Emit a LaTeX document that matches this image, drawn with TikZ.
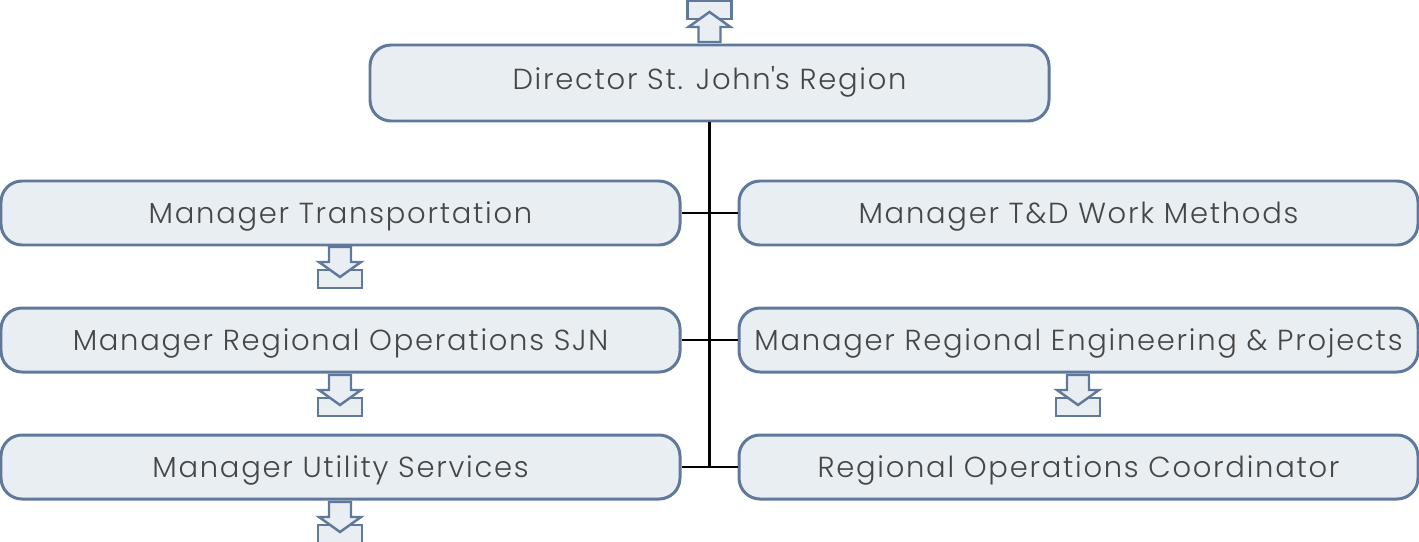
\documentclass[tikz,border=0pt]{standalone}
\usepackage{fontspec}
\setmainfont{Poppins}[UprightFont={* Light}, LetterSpace=6]
\usepackage{tikz}
\definecolor{boxline}{RGB}{96,120,156}
\definecolor{boxfill}{RGB}{233,238,242}
\definecolor{boxtext}{RGB}{70,70,70}
\tikzset{
  unitbox/.style={draw=boxline, fill=boxfill, line width=1.7pt, rounded corners=0.42cm,
    minimum width=13.58cm, minimum height=1.28cm, text=boxtext,
    font=\fontsize{16.5}{20}\selectfont, inner sep=0pt, text height=0.50cm, text depth=0.08cm},
  link/.style={draw=black, line width=1.4pt},
  tray/.pic={
    \draw[boxline, fill=boxfill, line width=1.4pt] (-0.44,-0.46) rectangle (0.44,-0.82);
    \draw[boxline, fill=boxfill, line width=1.4pt, line join=miter]
      (-0.22,0) -- (0.22,0) -- (0.22,-0.30) -- (0.42,-0.30) -- (0,-0.60)
      -- (-0.42,-0.30) -- (-0.22,-0.30) -- cycle;
  }
}
\begin{document}
\begin{tikzpicture}
      \useasboundingbox (0,0) rectangle (28.38,-10.82);
      \node[unitbox, minimum height=1.52cm, text height=0.32cm] (dir) at (14.19,-1.66) {Director St. John\textquotesingle s Region};
      \node[unitbox] (trans) at (6.81,-4.26) {Manager Transportation};
      \node[unitbox] (ops) at (6.81,-6.80) {Manager Regional Operations SJN};
      \node[unitbox] (util) at (6.81,-9.34) {Manager Utility Services};
      \node[unitbox] (work) at (21.57,-4.26) {Manager T\&D Work Methods};
      \node[unitbox] (eng) at (21.57,-6.80) {Manager Regional Engineering \& Projects};
      \node[unitbox] (coord) at (21.57,-9.34) {Regional Operations Coordinator};
      \coordinate (busend) at (dir.south |- coord.west);
      \draw[link] (dir.south) -- (busend);
      \draw[link] (trans.east) -- (work.west);
      \draw[link] (ops.east) -- (eng.west);
      \draw[link] (util.east) -- (coord.west);
      \pic[yscale=-1] at (14.19,-0.84) {tray};
      \pic at (6.80,-4.94) {tray};
      \pic at (6.80,-7.50) {tray};
      \pic at (6.80,-10.04) {tray};
      \pic at (21.56,-7.50) {tray};
    \end{tikzpicture}
\end{document}
